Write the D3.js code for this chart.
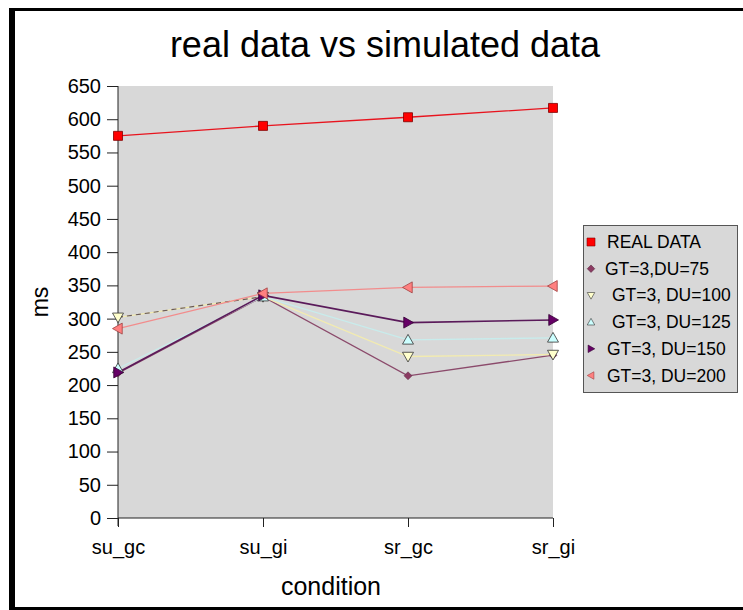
<!DOCTYPE html>
<html><head><meta charset="utf-8">
<script src="https://cdn.jsdelivr.net/npm/d3@7"></script>
<style>body{margin:0;background:#fff}svg{display:block}text{font-family:Arial,"Liberation Sans",sans-serif}</style>
</head><body><svg id="c" width="743" height="610"></svg>
<script>
const categories = ["su_gc","su_gi","sr_gc","sr_gi"];
const seriesNames = ["REAL DATA","GT=3,DU=75","GT=3, DU=100","GT=3, DU=125","GT=3, DU=150","GT=3, DU=200"];
const realData = [575, 590, 603, 617];
const du75 = [218, 333, 214, 245];
const du100 = [302, 333, 243, 246];
const du125 = [225, 333, 268, 271];
const du150 = [219, 335, 294, 298];
const du200 = [285, 338, 347, 349];
const yTicks = [0,50,100,150,200,250,300,350,400,450,500,550,600,650];
const colors = ["#FF0000","#8B3A62","#FFFFCC","#CCFFFF","#660066","#FF8080"];
const lineColors = ["#E8141E","#8B4A6B","#F2EBB0","#C8ECEC","#5A1A5A","#F28C8C"];
const shapes = ["square","diamond","down","up","right","left"];
const allSeries = [realData, du75, du100, du125, du150, du200];

const svg = d3.select("#c");
// frame
svg.append("rect").attr("x",12).attr("y",9.5).attr("width",760).attr("height",599).attr("fill","#fff").attr("stroke","#000").attr("stroke-width",3);
svg.append("rect").attr("x",9).attr("y",8).attr("width",6).attr("height",602).attr("fill","#000");

const L=118, R=553, T=86, B=518;
const x = d3.scalePoint().domain(categories).range([L,R]).padding(0);
const y = d3.scaleLinear().domain([0,650]).range([B,T]);

svg.append("rect").attr("x",L).attr("y",T).attr("width",R-L).attr("height",B-T).attr("fill","#D8D8D8");

const yAxis = svg.append("g").attr("transform",`translate(${L},0)`)
  .call(d3.axisLeft(y).tickValues(yTicks).tickSize(11).tickPadding(6).tickFormat(d3.format("d")));
yAxis.attr("font-size",20).attr("font-family","Arial, 'Liberation Sans', sans-serif");
yAxis.selectAll("text").attr("fill","#000");
yAxis.selectAll("line").attr("stroke","#222");
yAxis.select(".domain").attr("stroke","#222").attr("d",`M0,${T}V${B+8}`);

const xAxis = svg.append("g").attr("transform",`translate(0,${B})`)
  .call(d3.axisBottom(x).tickSize(9).tickPadding(13));
xAxis.attr("font-size",20).attr("font-family","Arial, 'Liberation Sans', sans-serif");
xAxis.selectAll("text").attr("fill","#000");
xAxis.selectAll("line").attr("stroke","#222");
xAxis.select(".domain").attr("stroke","#222").attr("d",`M${L},0H${R}`);

svg.append("text").attr("x",385).attr("y",57).attr("text-anchor","middle").attr("font-size",36).text("real data vs simulated data");
svg.append("text").attr("x",331).attr("y",595).attr("text-anchor","middle").attr("font-size",25).text("condition");
svg.append("text").attr("transform","translate(48,302) rotate(-90)").attr("text-anchor","middle").attr("font-size",23).text("ms");

function markerPath(shape, s){
  const p = d3.path();
  if(shape==="square"){ p.rect(-s/2,-s/2,s,s); }
  else if(shape==="diamond"){ p.moveTo(0,-s/2);p.lineTo(s/2,0);p.lineTo(0,s/2);p.lineTo(-s/2,0);p.closePath(); }
  else if(shape==="down"){ p.moveTo(-s/2,-s/2.6);p.lineTo(s/2,-s/2.6);p.lineTo(0,s/2);p.closePath(); }
  else if(shape==="up"){ p.moveTo(-s/2,s/2.6);p.lineTo(s/2,s/2.6);p.lineTo(0,-s/2);p.closePath(); }
  else if(shape==="right"){ p.moveTo(-s/2.6,-s/2);p.lineTo(-s/2.6,s/2);p.lineTo(s/2,0);p.closePath(); }
  else if(shape==="left"){ p.moveTo(s/2.6,-s/2);p.lineTo(s/2.6,s/2);p.lineTo(-s/2,0);p.closePath(); }
  return p.toString();
}
const sizes = [9,8,11,11,11,11];
const strokes = ["#800000","#5a2a40","#333","#333","#330033","#a04040"];

const line = d3.line().x((d,i)=>x(categories[i])).y(d=>y(d));
allSeries.forEach((vals,k)=>{
  svg.append("path").attr("d",line(vals)).attr("fill","none").attr("stroke",lineColors[k]).attr("stroke-width",k===4?1.6:1.3);
  if(k===2){
    svg.append("path").attr("d",line(vals.slice(0,2))).attr("fill","none").attr("stroke","#6a5a5a").attr("stroke-width",1.2).attr("stroke-dasharray","5,4");
  }
});
allSeries.forEach((vals,k)=>{
  svg.append("g").selectAll("path").data(vals).join("path")
    .attr("transform",(d,i)=>`translate(${x(categories[i])},${y(d)})`)
    .attr("d",markerPath(shapes[k],sizes[k]))
    .attr("fill",colors[k]).attr("stroke",strokes[k]).attr("stroke-width",k===1?0.5:0.8);
});

// legend
const lg = svg.append("g");
lg.append("rect").attr("x",583.5).attr("y",225.5).attr("width",154).attr("height",167).attr("fill","#D8D8D8").attr("stroke","#555").attr("stroke-width",1);
const textX = [607,605,612,612,607,607];
seriesNames.forEach((n,k)=>{
  const yy = 242 + k*26.7;
  lg.append("path").attr("transform",`translate(591,${yy})`).attr("d",markerPath(shapes[k],k===0?8:7.5))
    .attr("fill",colors[k]).attr("stroke",strokes[k]).attr("stroke-width",0.6);
  lg.append("text").attr("x",textX[k]).attr("y",yy+6).attr("font-size",17.5).text(n);
});
</script></body></html>
